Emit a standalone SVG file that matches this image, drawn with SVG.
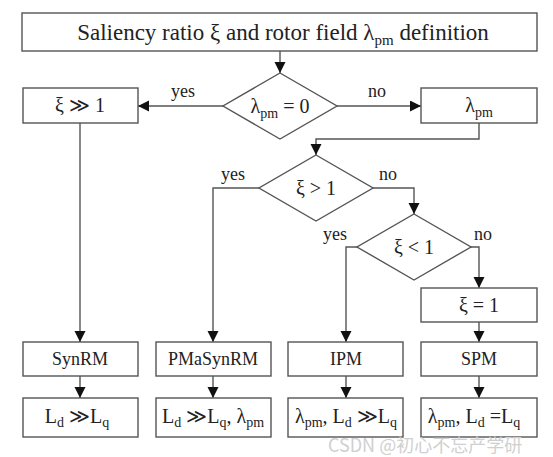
<svg xmlns="http://www.w3.org/2000/svg" width="553" height="457" viewBox="0 0 553 457">
<style>
.b{fill:#fff;stroke:#555;stroke-width:1.4}
.c{fill:none;stroke:#555;stroke-width:1.4}
text{font-family:"Liberation Serif","DejaVu Serif",serif;fill:#222;text-anchor:middle}
.t{font-size:23px}
.m{font-size:20px}
.l{font-size:18px}
.s{font-size:14px}
.ts{font-size:15px}
.wm{font-family:"Noto Sans CJK SC","Liberation Sans",sans-serif;font-size:18px;fill:#d0d0d0;text-anchor:start}
</style>
<defs>
<marker id="ah" markerUnits="userSpaceOnUse" markerWidth="12" markerHeight="12" refX="11" refY="5.5" orient="auto"><path d="M0,0 L11,5.5 L0,11 z" fill="#111"/></marker>
</defs>
<rect width="553" height="457" fill="#fff"/>
<g id="connectors">
<path class="c" d="M280,51 V73" marker-end="url(#ah)"/>
<path class="c" d="M223,106 H138" marker-end="url(#ah)"/>
<path class="c" d="M337,106 H421" marker-end="url(#ah)"/>
<path class="c" d="M479,123 V139 H316 V155" marker-end="url(#ah)"/>
<path class="c" d="M80,123 V342" marker-end="url(#ah)"/>
<path class="c" d="M259,188 H213 V342" marker-end="url(#ah)"/>
<path class="c" d="M373,188 H414 V214" marker-end="url(#ah)"/>
<path class="c" d="M357,247 H346 V342" marker-end="url(#ah)"/>
<path class="c" d="M471,247 H479 V288" marker-end="url(#ah)"/>
<path class="c" d="M479,322 V342" marker-end="url(#ah)"/>
<path class="c" d="M80,376 V398" marker-end="url(#ah)"/>
<path class="c" d="M213,376 V398" marker-end="url(#ah)"/>
<path class="c" d="M346,376 V398" marker-end="url(#ah)"/>
<path class="c" d="M479,376 V398" marker-end="url(#ah)"/>
<text class="l" x="183" y="97">yes</text>
<text class="l" x="377" y="97">no</text>
<text class="l" x="233" y="180">yes</text>
<text class="l" x="388" y="180">no</text>
<text class="l" x="335" y="240">yes</text>
<text class="l" x="483" y="240">no</text>
</g>
<g id="title"><rect class="b" x="22" y="13" width="515" height="38"/>
<text class="t" x="283" y="40">Saliency ratio ξ and rotor field λ<tspan class="ts" dy="5">pm</tspan><tspan dy="-5"> definition</tspan></text></g>
<g id="d1"><polygon class="b" points="280,73 337,106 280,139 223,106"/>
<text class="m" x="280" y="113">λ<tspan class="s" dy="5">pm</tspan><tspan dy="-5"> = 0</tspan></text></g>
<g id="xi-gg"><rect class="b" x="23" y="88" width="115" height="35"/>
<text class="m" x="80" y="112">ξ ≫ 1</text></g>
<g id="lam"><rect class="b" x="421" y="88" width="116" height="35"/>
<text class="m" x="479" y="112">λ<tspan class="s" dy="5">pm</tspan></text></g>
<g id="d2"><polygon class="b" points="316,155 373,188 316,221 259,188"/>
<text class="m" x="316" y="195">ξ &gt; 1</text></g>
<g id="d3"><polygon class="b" points="414,214 471,247 414,280 357,247"/>
<text class="m" x="414" y="254">ξ &lt; 1</text></g>
<g id="xi-eq"><rect class="b" x="421" y="288" width="116" height="34"/>
<text class="m" x="479" y="312">ξ = 1</text></g>
<g id="synrm"><rect class="b" x="23" y="342" width="115" height="34"/><text class="l" x="80" y="365">SynRM</text></g>
<g id="pmasynrm"><rect class="b" x="156" y="342" width="115" height="34"/><text class="l" x="213" y="365">PMaSynRM</text></g>
<g id="ipm"><rect class="b" x="288" y="342" width="115" height="34"/><text class="l" x="346" y="365">IPM</text></g>
<g id="spm"><rect class="b" x="421" y="342" width="116" height="34"/><text class="l" x="479" y="365">SPM</text></g>
<g id="r1"><rect class="b" x="23" y="398" width="115" height="39"/>
<text class="m" x="77" y="423">L<tspan class="s" dy="4">d</tspan><tspan dy="-4"> ≫L</tspan><tspan class="s" dy="4">q</tspan></text></g>
<g id="r2"><rect class="b" x="156" y="398" width="115" height="39"/>
<text class="m" x="213" y="423">L<tspan class="s" dy="4">d</tspan><tspan dy="-4"> ≫L</tspan><tspan class="s" dy="4">q</tspan><tspan dy="-4">, λ</tspan><tspan class="s" dy="4">pm</tspan></text></g>
<g id="r3"><rect class="b" x="288" y="398" width="115" height="39"/>
<text class="m" x="346" y="423">λ<tspan class="s" dy="4">pm</tspan><tspan dy="-4">, L</tspan><tspan class="s" dy="4">d</tspan><tspan dy="-4"> ≫L</tspan><tspan class="s" dy="4">q</tspan></text></g>
<g id="r4"><rect class="b" x="421" y="398" width="116" height="39"/>
<text class="m" x="474" y="423">λ<tspan class="s" dy="4">pm</tspan><tspan dy="-4">, L</tspan><tspan class="s" dy="4">d</tspan><tspan dy="-4"> =L</tspan><tspan class="s" dy="4">q</tspan></text></g>
<text class="wm" x="328" y="452">CSDN @初心不忘产学研</text>
</svg>
